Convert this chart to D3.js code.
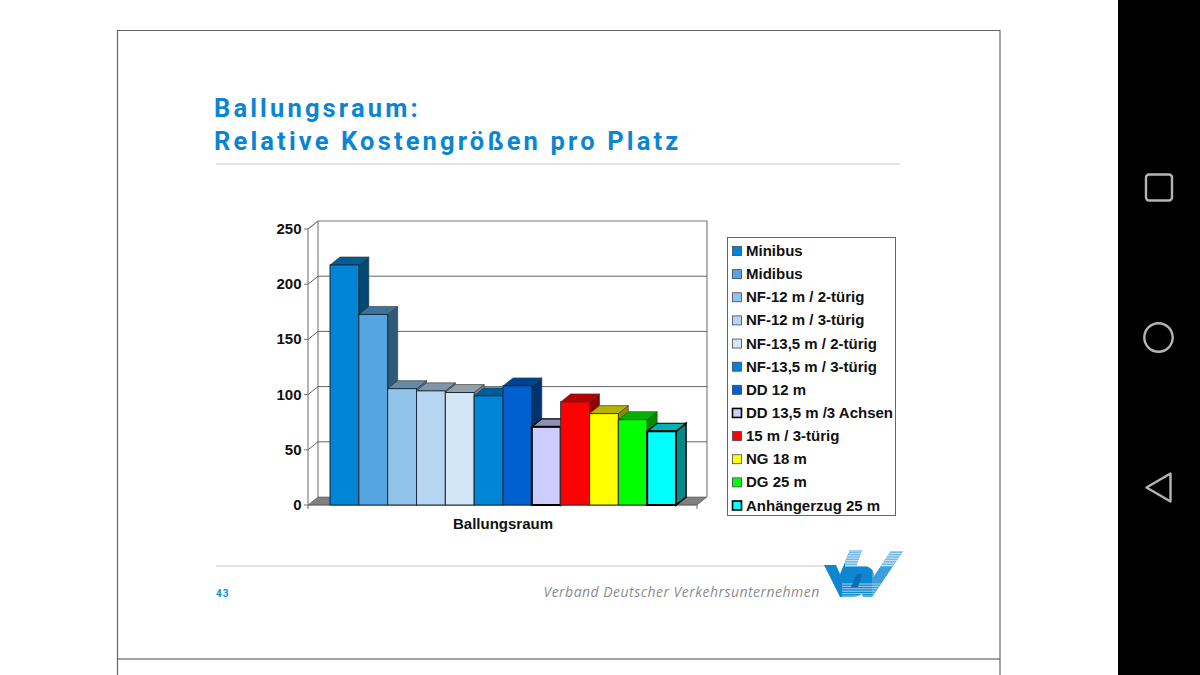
<!DOCTYPE html>
<html><head><meta charset="utf-8">
<script src="https://cdn.jsdelivr.net/npm/d3@7/dist/d3.min.js"></script>
<style>html,body{margin:0;padding:0;background:#fff;overflow:hidden}svg{display:block}</style>
</head><body><svg id="c" width="1200" height="675"></svg>
<script>
const categories=["Minibus","Midibus","NF-12 m / 2-türig","NF-12 m / 3-türig","NF-13,5 m / 2-türig","NF-13,5 m / 3-türig","DD 12 m","DD 13,5 m /3 Achsen","15 m / 3-türig","NG 18 m","DG 25 m","Anhängerzug 25 m"];
const values=[217.4,172.6,105.4,103.4,101.9,98.9,107.9,70.8,93.4,82.8,77.3,66.8];
const colors=["#0085d6","#55a5e0","#92c4ea","#b5d5f1","#d3e6f6","#0085d6","#0060cf","#ccccff","#ff0000","#ffff00","#00ff00","#00ffff"];
const strokes=["#1a2a3a","#1a2a3a","#1a2a3a","#1a2a3a","#1a2a3a","#1a2a3a","#1a2a3a","#000","#333","#333","#333","#000"];
const heavy=[0,0,0,0,0,0,0,1,0,0,0,1];
const yTicks=[0,50,100,150,200,250];
const groupLabel="Ballungsraum";
const titleLines=["Ballungsraum:","Relative Kostengrößen pro Platz"];

const svg=d3.select("#c");
const dx=10,dy=-8;
const y=d3.scaleLinear().domain([0,250]).range([505,229]);
const x=d3.scaleBand().domain(categories).range([330,676]).paddingInner(0).paddingOuter(0);
const x0=308,x1=697;

// device frame
svg.append("rect").attr("x",1118).attr("y",0).attr("width",82).attr("height",675).attr("fill","#000");
const fr=svg.append("g").attr("fill","none").attr("stroke","#666").attr("stroke-width",1.2);
fr.append("path").attr("d","M117.5,675V30.5H1000V675");
fr.append("path").attr("d","M117.5,659H1000").attr("stroke","#444");
const nav=svg.append("g").attr("fill","none").attr("stroke","#b4b4b4").attr("stroke-width",2.4);
nav.append("rect").attr("x",1146).attr("y",174.5).attr("width",26).attr("height",26).attr("rx",3);
nav.append("circle").attr("cx",1158.5).attr("cy",337.5).attr("r",14.2);
nav.append("path").attr("d","M1170.5,473.5V501.5L1146.5,487.5Z").attr("stroke-linejoin","round");

// title
svg.append("g").selectAll("text").data(titleLines).join("text")
 .attr("x",214).attr("y",(d,i)=>117+i*32.5)
 .attr("font-family","Roboto").attr("font-weight",700).attr("font-size",25.5).attr("letter-spacing",3.15)
 .attr("fill","#0a85d3").text(d=>d);
svg.append("line").attr("x1",216).attr("x2",900).attr("y1",164).attr("y2",164).attr("stroke","#c8c8c8").attr("stroke-width",1.2);

// walls
const g=svg.append("g");
g.append("path").attr("d",`M${x0},${y(0)}L${x0+dx},${y(0)+dy}H${x1+dx}L${x1},${y(0)}Z`).attr("fill","#808080").attr("stroke","#555").attr("stroke-width",.6);
g.append("path").attr("d",`M${x0},${y(0)}V${y(250)}L${x0+dx},${y(250)+dy}H${x1+dx}V${y(0)+dy}`).attr("fill","none").attr("stroke","#777").attr("stroke-width",1.1);
g.append("path").attr("d",`M${x0+dx},${y(0)+dy}V${y(250)+dy}`).attr("fill","none").attr("stroke","#777").attr("stroke-width",1.1);
g.selectAll(".grid").data(yTicks.slice(1,5)).join("path").attr("class","grid")
 .attr("d",d=>`M${x0},${y(d)}L${x0+dx},${y(d)+dy}H${x1+dx}`).attr("fill","none").attr("stroke","#555").attr("stroke-width",.9);
g.selectAll(".tickm").data(yTicks).join("line").attr("class","tickm")
 .attr("x1",x0-4).attr("x2",x0).attr("y1",d=>y(d)).attr("y2",d=>y(d)).attr("stroke","#777");
g.selectAll(".tl").data(yTicks).join("text").attr("class","tl")
 .attr("x",x0-6.5).attr("y",d=>y(d)+5).attr("text-anchor","end")
 .attr("font-family","Liberation Sans").attr("font-weight",700).attr("font-size",15).attr("fill","#111").text(d=>d);
g.append("path").attr("d",`M${x0},${y(0)}H${x1}V${y(0)+4}M${x0},${y(0)}V${y(0)+4}`).attr("fill","none").attr("stroke","#666").attr("stroke-width",1);

// bars
const w=x.bandwidth();
const bars=g.selectAll(".bar").data(categories.map((c,i)=>({c,i,v:values[i]}))).join("g").attr("class","bar")
 .attr("stroke-linejoin","miter");
const sw=d=>heavy[d.i]?2:1;
bars.append("path").attr("d",d=>`M${x(d.c)+w},${y(d.v)}l${dx},${dy}V${y(0)+dy}l${-dx},${-dy}Z`)
 .attr("fill",d=>d3.rgb(colors[d.i]).darker(1.7).formatHex()).attr("stroke",d=>heavy[d.i]?"#000":"#333").attr("stroke-width",d=>heavy[d.i]?1.6:.6);
bars.append("path").attr("d",d=>`M${x(d.c)},${y(d.v)}l${dx},${dy}h${w}l${-dx},${-dy}Z`)
 .attr("fill",d=>d3.rgb(colors[d.i]).darker(1).formatHex()).attr("stroke",d=>heavy[d.i]?"#000":"#333").attr("stroke-width",d=>heavy[d.i]?1.2:.6);
bars.append("rect").attr("x",d=>x(d.c)).attr("y",d=>y(d.v)).attr("width",w).attr("height",d=>y(0)-y(d.v))
 .attr("fill",d=>colors[d.i]).attr("stroke",d=>strokes[d.i]).attr("stroke-width",sw);

g.append("text").attr("x",503).attr("y",529).attr("text-anchor","middle")
 .attr("font-family","Liberation Sans").attr("font-weight",700).attr("font-size",15).attr("fill","#111").text(groupLabel);

// legend
const lg=svg.append("g");
lg.append("rect").attr("x",727.5).attr("y",237.5).attr("width",168).attr("height",278).attr("fill","#fff").attr("stroke","#666").attr("stroke-width",1);
const ly=d3.scalePoint().domain(categories).range([251,505.5]);
const li=lg.selectAll(".li").data(categories.map((c,i)=>({c,i}))).join("g").attr("class","li");
li.append("rect").attr("x",732.5).attr("y",d=>ly(d.c)-4.5).attr("width",9).attr("height",9)
 .attr("fill",d=>colors[d.i]).attr("stroke",d=>heavy[d.i]?"#000":"#445").attr("stroke-width",d=>heavy[d.i]?1.6:.8);
li.append("text").attr("x",746).attr("y",d=>ly(d.c)+5)
 .attr("font-family","Liberation Sans").attr("font-weight",700).attr("font-size",15).attr("fill","#111").text(d=>d.c);

// footer
svg.append("line").attr("x1",216).attr("x2",828).attr("y1",566).attr("y2",566).attr("stroke","#c8c8c8").attr("stroke-width",1.2);
svg.append("text").attr("x",216).attr("y",597).attr("font-family","Roboto").attr("font-weight",700).attr("font-size",10).attr("letter-spacing",1).attr("fill","#0a90e0").text("43");
svg.append("text").attr("x",543.5).attr("y",597).attr("font-family","Open Sans").attr("font-style","italic").attr("font-weight",500).attr("font-size",14).attr("letter-spacing",.47).attr("fill","#8c8c8c").text("Verband Deutscher Verkehrsunternehmen");

// logo
const defs=svg.append("defs");
const logoShape="M824,565H836L840,574L850,550H862L856,566H862C872,566 875,572 873,578L891,551H903L872,597H863L862,594C859,596 855,597 851,597H840Z";
defs.append("clipPath").attr("id","lc").append("path").attr("d",logoShape);
const lo=svg.append("g").attr("clip-path","url(#lc)");
lo.append("rect").attr("x",820).attr("y",548).attr("width",88).attr("height",52).attr("fill","#0f86d0");
lo.append("rect").attr("x",845).attr("y",548).attr("width",63).attr("height",19).attr("fill","#6db8e6");
lo.selectAll(".l1").data(d3.range(551,567,2.4)).join("line").attr("class","l1").attr("x1",845).attr("x2",908).attr("y1",d=>d).attr("y2",d=>d).attr("stroke","#cfe8f7").attr("stroke-width",1);
lo.append("rect").attr("x",872).attr("y",567).attr("width",36).attr("height",32).attr("fill","#3d9fdc");
lo.selectAll(".l2").data(d3.range(584,598,2.4)).join("line").attr("class","l2").attr("x1",842).attr("x2",880).attr("y1",d=>d).attr("y2",d=>d).attr("stroke","#a6d5f1").attr("stroke-width",1);
svg.append("path").attr("d","M857,574H862L858,587H851Z").attr("fill","#0a6cb4");
</script></body></html>
